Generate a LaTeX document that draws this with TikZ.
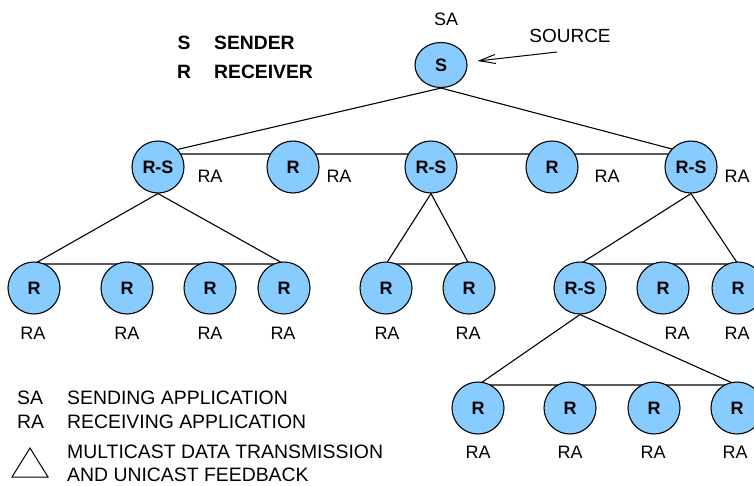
\documentclass[tikz,border=0pt]{standalone}
\usepackage{fontspec}
\setmainfont{Liberation Sans}
\usetikzlibrary{shapes.geometric,arrows.meta,backgrounds}
\definecolor{nodeblue}{RGB}{136,204,255}
\tikzset{
  x=1pt,y=-1pt,
  every node/.style={font=\fontsize{18}{21}\selectfont, inner sep=0pt},
  tnode/.style={circle, draw=black, line width=1.1pt, fill=nodeblue, minimum size=52pt, font=\fontsize{18}{21}\selectfont\bfseries},
  snode/.style={ellipse, draw=black, line width=1.1pt, fill=nodeblue, minimum width=52pt, minimum height=45pt, font=\fontsize{18}{21}\selectfont\bfseries},
  legend/.style={font=\fontsize{19.4}{22}\selectfont},
  bold/.style={font=\fontsize{19.3}{22}\selectfont\bfseries},
  edge/.style={line width=1.1pt},
  srcarrow/.style={line width=1pt, -{Straight Barb[length=16pt,width=9pt]}}
}
\begin{document}
\begin{tikzpicture}
\useasboundingbox (0,0) rectangle (754,485);
% nodes
\node[snode] (S) at (441,65) {S};
\node[tnode] (a1) at (158,167) {R-S};
\node[tnode] (a2) at (293,167) {R};
\node[tnode] (a3) at (431,167) {R-S};
\node[tnode] (a4) at (552,167) {R};
\node[tnode] (a5) at (691,167) {R-S};
\node[tnode] (b1) at (34,288) {R};
\node[tnode] (b2) at (127,288) {R};
\node[tnode] (b3) at (210,288) {R};
\node[tnode] (b4) at (284,288) {R};
\node[tnode] (b5) at (386,288) {R};
\node[tnode] (b6) at (469,288) {R};
\node[tnode] (b7) at (580,288) {R-S};
\node[tnode] (b8) at (663,288) {R};
\node[tnode] (b9) at (738,288) {R};
\node[tnode] (c1) at (478,408) {R};
\node[tnode] (c2) at (570,408) {R};
\node[tnode] (c3) at (654,408) {R};
\node[tnode] (c4) at (737,408) {R};
% triangles
\begin{scope}[on background layer]
\draw[edge] (S.south) -- ([yshift=13pt]a1.center) -- ([yshift=13pt]a5.center) -- cycle;
\draw[edge] (a1.south) -- ([yshift=24pt]b1.center) -- ([yshift=24pt]b4.center) -- cycle;
\draw[edge] (a3.south) -- ([yshift=24pt]b5.center) -- ([yshift=24pt]b6.center) -- cycle;
\draw[edge] (a5.south) -- ([yshift=24pt]b7.center) -- ([yshift=24pt]b9.center) -- cycle;
\draw[edge] (b7.south) -- ([yshift=23pt]c1.center) -- ([yshift=23pt]c4.center) -- cycle;
\end{scope}
% labels
\node (sa) at (446,19) {SA};
\node[font=\fontsize{19}{22}\selectfont] (src) at (570,36) {SOURCE};
\coordinate (srctail) at (557,52);
\draw[srcarrow] (srctail) -- ([xshift=10pt,yshift=4pt]S.east);
\node (ra1) at (210,176) {RA};
\node (ra2) at (339,176) {RA};
\node (ra4) at (607,176) {RA};
\node (ra5) at (737,176) {RA};
\foreach \n/\x in {b1/33,b2/127,b3/210,b4/283,b5/387,b6/468,b8/677,b9/737}{
  \node (r\n) at (\x,333) {RA};
}
\foreach \n/\x in {c1/478,c2/570,c3/653,c4/735}{
  \node (r\n) at (\x,452) {RA};
}
% legend top
\node[bold] (lgS) at (184,43) {S};
\node[bold, anchor=west] (lgSt) at (214,43) {SENDER};
\node[bold] (lgR) at (184,72) {R};
\node[bold, anchor=west] (lgRt) at (214,72) {RECEIVER};
% legend bottom
\node[legend, anchor=west] (lgSA) at (17,398) {SA};
\node[legend, anchor=west] (lgSAt) at (67,398) {SENDING APPLICATION};
\node[legend, anchor=west] (lgRA) at (17,422) {RA};
\node[legend, anchor=west] (lgRAt) at (67,422) {RECEIVING APPLICATION};
\node[legend, anchor=west] (lgM1) at (67,452) {MULTICAST DATA TRANSMISSION};
\node[legend, anchor=west] (lgM2) at (67,474.5) {AND UNICAST FEEDBACK};
\draw[line width=1pt] (30,448) -- (48,477) -- (12,477) -- cycle;
\end{tikzpicture}
\end{document}
